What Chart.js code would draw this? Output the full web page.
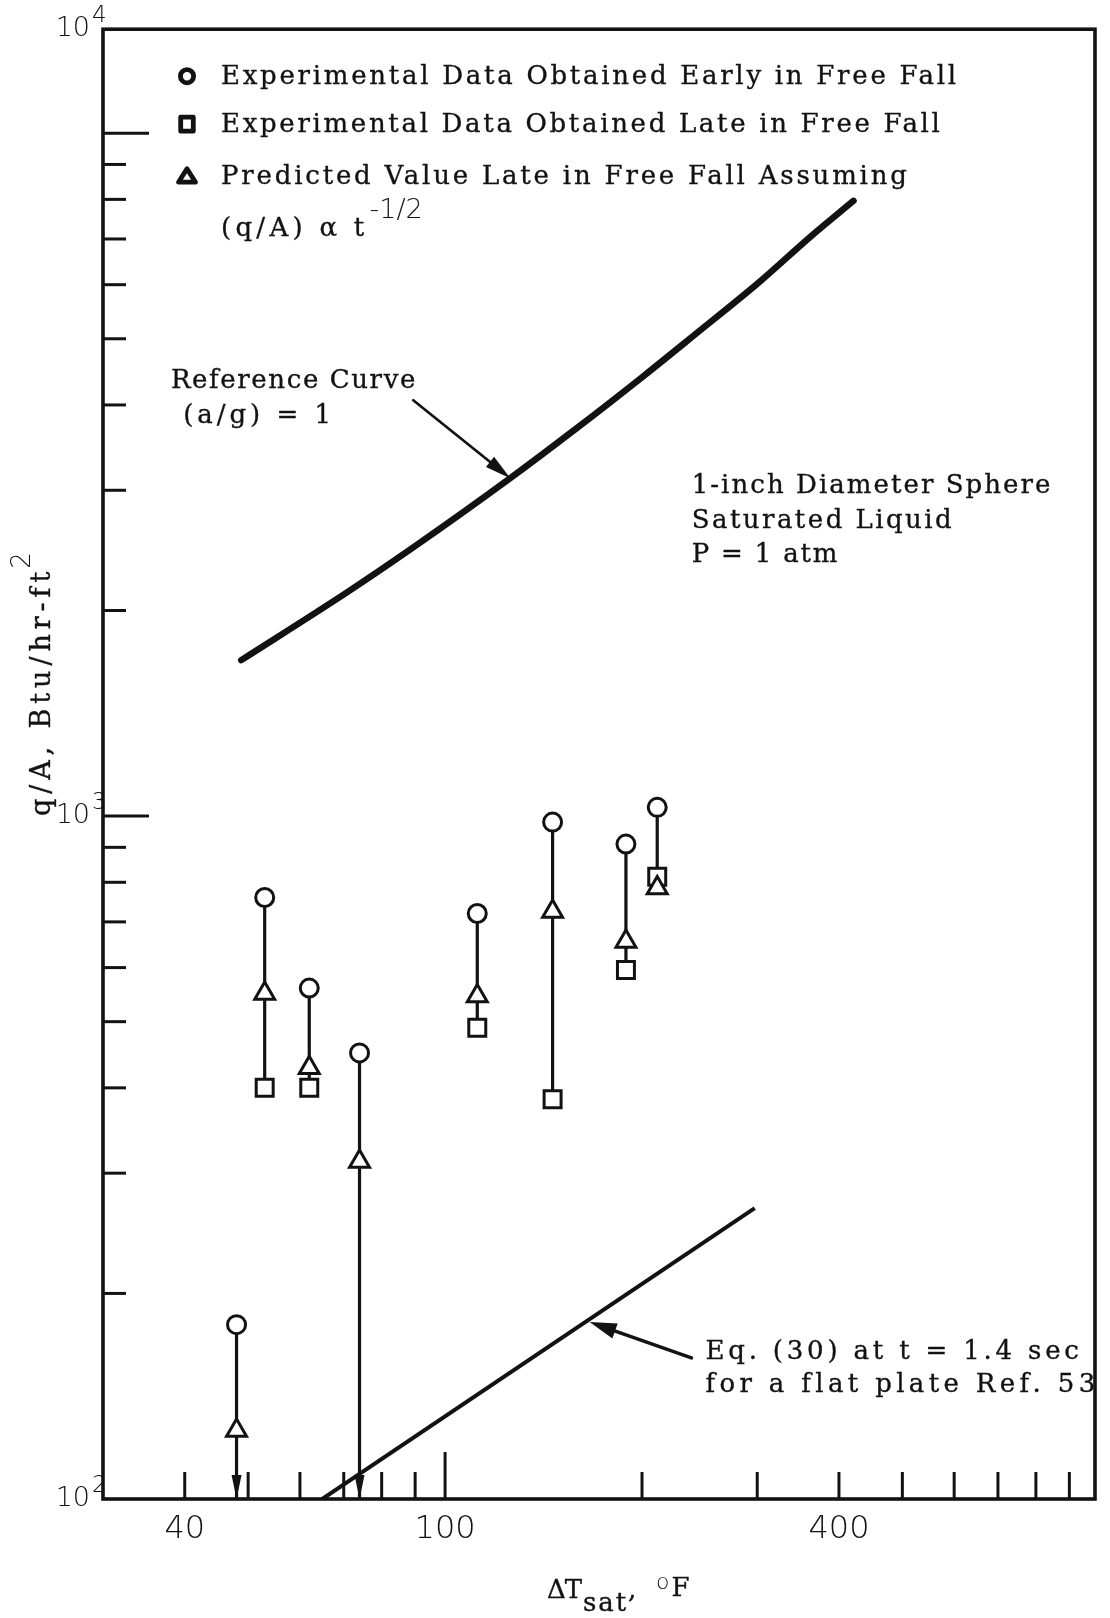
<!DOCTYPE html>
<html>
<head>
<meta charset="utf-8">
<title>q/A vs ΔT_sat — 1-inch sphere in free fall</title>
<script src="https://cdn.jsdelivr.net/npm/chart.js@4.4.1/dist/chart.umd.min.js"></script>
<style>
  html, body { margin: 0; padding: 0; background: #ffffff; }
  #wrap { width: 1110px; height: 1618px; }
  canvas { display: block; }
</style>
</head>
<body>
<div id="wrap"><canvas id="chart" width="1110" height="1618"></canvas></div>
<script>
// ---- data -------------------------------------------------------------
// ΔT_sat, °F, of each run
const deltaT = [48, 53, 62, 74, 112, 146, 189, 211];
// q/A, Btu/hr-ft², obtained early in free fall
const qEarly = [180, 760, 560, 450, 720, 980, 910, 1030];
// q/A obtained late in free fall (null = below 10², off scale)
const qLate = [null, 400, 400, null, 490, 385, 595, 815];
// q/A predicted late in free fall assuming (q/A) α t^-1/2
const qPredicted = [126, 550, 428, 312, 545, 725, 655, 785];

// reference curve, (a/g) = 1
const refDeltaT = [48.8, 70.8, 89.4, 125.8, 159.5, 201.4, 239.7, 302.6, 360.4, 421];
const refQ = [1692, 2126, 2474, 3125, 3708, 4415, 5051, 6060, 7030, 7960];

// Eq. (30) at t = 1.4 sec for a flat plate
const eq30DeltaT = [64.9, 297.4];
const eq30Q = [100, 266.7];

// series names
const seriesLabels = [
  'Experimental Data Obtained Early in Free Fall',
  'Experimental Data Obtained Late in Free Fall',
  'Predicted Value Late in Free Fall Assuming'
];

// axis tick labels and tick marks
const xTickLabels = [40, 100, 400];
const yTickBase = ['10', '10', '10'];
const yTickExp = ['2', '3', '4'];
const xMinorTicks = [40, 50, 60, 70, 80, 90, 200, 300, 400, 500, 600, 700, 800, 900];
const xMajorTicks = [100];
const yMinorTicks = [200, 300, 400, 500, 600, 700, 800, 900,
                     2000, 3000, 4000, 5000, 6000, 7000, 8000, 9000];
const yMajorTicks = [1000, 10000];

// ---- layout / style ---------------------------------------------------
const X_MIN = 30, X_MAX = 985, Y_MIN = 100, Y_MAX = 14200;
const INK = '#121212';
const TYPE_FONT = '"DejaVu Serif", "Liberation Serif", serif';
const TYPE_SIZE = 26;
const PITCH = 16.4;          // typewriter character pitch, px
const LETTER_FONT = '"DejaVu Sans", "Liberation Sans", sans-serif';

// callouts in data units
const callouts = [
  { from: [89.4, 4064], to: [125.8, 3125], width: 2.7, len: 26, half: 6.5 },
  { from: [238, 160.9], to: [166.3, 181.6], width: 3.4, len: 27, half: 8 }
];
const notes = [
  { at: [38.1, 4233], step: 35, lines: ['Reference Curve', ' (a/g) = 1'] },
  { at: [238.2, 2971], step: 34.5, lines: ['1-inch Diameter Sphere', 'Saturated Liquid', 'P = 1 atm'] },
  { at: [250, 160.3], step: 33, lines: ['Eq. (30) at t = 1.4 sec', 'for a flat plate Ref. 53'] }
];

const pts = (xs, ys) => xs.map((x, i) => ({ x, y: ys[i] })).filter(p => p.y !== null);

// vertical bars joining each run's early value to its late value
// (down to the axis when the late value is off scale)
const connectorSets = deltaT.map((x, i) => ({
  label: 'run ' + (i + 1),
  data: [{ x, y: qEarly[i] }, { x, y: qLate[i] === null ? Y_MIN : qLate[i] }],
  showLine: true,
  borderColor: INK,
  borderWidth: 3.2,
  pointRadius: 0,
  clip: false
}));

// typewriter-style text: a fixed character pitch, slightly inked
function typeText(ctx, s, x, y, pitch, size) {
  ctx.save();
  ctx.font = (size || TYPE_SIZE) + 'px ' + TYPE_FONT;
  if ('letterSpacing' in ctx) {
    ctx.letterSpacing = '0px';
    const w = ctx.measureText(s).width;
    ctx.letterSpacing = ((pitch * s.length - w) / s.length).toFixed(2) + 'px';
  }
  ctx.fillStyle = INK;
  ctx.strokeStyle = INK;
  ctx.lineWidth = 0.35;
  ctx.fillText(s, x, y);
  ctx.strokeText(s, x, y);
  ctx.restore();
  return pitch * s.length;
}

function filledHead(ctx, tx, ty, fx, fy, len, half) {
  const ang = Math.atan2(ty - fy, tx - fx);
  ctx.save();
  ctx.translate(tx, ty);
  ctx.rotate(ang);
  ctx.beginPath();
  ctx.moveTo(0, 0);
  ctx.lineTo(-len, half);
  ctx.lineTo(-len, -half);
  ctx.closePath();
  ctx.fill();
  ctx.restore();
}

function legendMarker(ctx, style, x, y) {
  ctx.save();
  ctx.lineWidth = 4.8;
  ctx.strokeStyle = INK;
  ctx.fillStyle = '#fff';
  ctx.lineJoin = 'round';
  ctx.beginPath();
  if (style === 'circle') {
    ctx.arc(x, y, 6.6, 0, Math.PI * 2);
  } else if (style === 'rect') {
    ctx.rect(x - 6.3, y - 7, 12.6, 14);
  } else {
    ctx.moveTo(x, y - 7.5);
    ctx.lineTo(x + 8.5, y + 6);
    ctx.lineTo(x - 8.5, y + 6);
    ctx.closePath();
  }
  ctx.fill();
  ctx.stroke();
  ctx.restore();
}

const decorations = {
  id: 'plotDecorations',
  afterDatasetsDraw(chart) {
    const { ctx, chartArea: a, scales: { x, y } } = chart;
    ctx.save();
    ctx.strokeStyle = INK;
    ctx.fillStyle = INK;
    ctx.textAlign = 'left';
    ctx.textBaseline = 'alphabetic';

    // arrowheads where the late value falls below the axis
    deltaT.forEach((v, i) => {
      if (qLate[i] !== null) return;
      const px = x.getPixelForValue(v);
      filledHead(ctx, px, a.bottom, px, a.bottom - 40, 24, 5);
    });

    // callout arrows
    ctx.lineCap = 'round';
    callouts.forEach(c => {
      const fx = x.getPixelForValue(c.from[0]), fy = y.getPixelForValue(c.from[1]);
      const tx = x.getPixelForValue(c.to[0]), ty = y.getPixelForValue(c.to[1]);
      const ang = Math.atan2(ty - fy, tx - fx);
      ctx.lineWidth = c.width;
      ctx.beginPath();
      ctx.moveTo(fx, fy);
      ctx.lineTo(tx - Math.cos(ang) * c.len * 0.7, ty - Math.sin(ang) * c.len * 0.7);
      ctx.stroke();
      filledHead(ctx, tx, ty, fx, fy, c.len, c.half);
    });

    // frame
    ctx.lineCap = 'butt';
    ctx.lineWidth = 3.6;
    ctx.strokeRect(a.left, a.top, a.right - a.left, a.bottom - a.top);

    // tick marks, pointing into the plot
    ctx.lineWidth = 3;
    const vtick = (v, h) => {
      const px = x.getPixelForValue(v);
      ctx.beginPath(); ctx.moveTo(px, a.bottom); ctx.lineTo(px, a.bottom - h); ctx.stroke();
    };
    const htick = (v, w) => {
      const py = y.getPixelForValue(v);
      ctx.beginPath(); ctx.moveTo(a.left, py); ctx.lineTo(a.left + w, py); ctx.stroke();
    };
    xMinorTicks.forEach(v => vtick(v, 27));
    xMajorTicks.forEach(v => vtick(v, 47));
    yMinorTicks.forEach(v => htick(v, 23));
    yMajorTicks.forEach(v => htick(v, 46));

    // exponents of the y tick labels
    ctx.font = '300 23px ' + LETTER_FONT;
    y.ticks.forEach((t, i) => {
      const py = y.getPixelForValue(t.value);
      ctx.fillText(yTickExp[i], a.left - 11, py - 7);
    });

    // legend
    const lx = a.left + 84, tx0 = a.left + 118;
    const rows = [a.top + 55, a.top + 103, a.top + 155];
    const styles = ['circle', 'rect', 'triangle'];
    seriesLabels.forEach((lab, i) => {
      legendMarker(ctx, styles[i], lx, rows[i] - 8);
      typeText(ctx, lab, tx0, rows[i], PITCH);
    });
    const cont = '(q/A) α t';
    const cw = typeText(ctx, cont, tx0, a.top + 207, PITCH);
    ctx.fillStyle = INK;
    ctx.font = '300 27px ' + LETTER_FONT;
    ctx.fillText('-1/2', tx0 + cw + 1, a.top + 189);

    // notes
    notes.forEach(n => {
      const nx = x.getPixelForValue(n.at[0]), ny = y.getPixelForValue(n.at[1]);
      n.lines.forEach((s, k) => typeText(ctx, s, nx, ny + k * n.step, PITCH));
    });

    // y axis title
    ctx.save();
    ctx.translate(50, 816);
    ctx.rotate(-Math.PI / 2);
    const yt = 'q/A, Btu/hr-ft';
    const yw = typeText(ctx, yt, 0, 0, 17.8, 27);
    ctx.fillStyle = INK;
    ctx.font = '300 26px ' + LETTER_FONT;
    ctx.fillText('2', yw - 2, -20);
    ctx.restore();

    // x axis title
    let cx = 547;
    const base = 1598;
    cx += typeText(ctx, 'ΔT', cx, base, 17) + 2;
    cx += typeText(ctx, 'sat', cx, base + 13, 15);
    cx += typeText(ctx, ',', cx, base, 14) + 14;
    ctx.fillStyle = INK;
    ctx.font = '300 22px ' + LETTER_FONT;
    ctx.fillText('o', cx, base - 9);
    cx += ctx.measureText('o').width + 2;
    typeText(ctx, 'F', cx, base - 2, 17);

    ctx.restore();
  }
};

new Chart(document.getElementById('chart'), {
  type: 'scatter',
  data: {
    datasets: [
      {
        label: seriesLabels[0],
        data: pts(deltaT, qEarly),
        pointStyle: 'circle',
        pointRadius: 9,
        borderWidth: 3,
        borderColor: INK,
        backgroundColor: '#ffffff',
        clip: false
      },
      {
        label: seriesLabels[2],
        data: pts(deltaT, qPredicted),
        pointStyle: 'triangle',
        pointRadius: 11.5,
        borderWidth: 3,
        borderColor: INK,
        backgroundColor: '#ffffff',
        clip: false
      },
      {
        label: seriesLabels[1],
        data: pts(deltaT, qLate),
        pointStyle: 'rect',
        pointRadius: 12,
        borderWidth: 3,
        borderColor: INK,
        backgroundColor: '#ffffff',
        clip: false
      },
      {
        label: 'Reference Curve (a/g) = 1',
        data: pts(refDeltaT, refQ),
        showLine: true,
        borderColor: INK,
        borderWidth: 6.5,
        borderCapStyle: 'round',
        cubicInterpolationMode: 'monotone',
        pointRadius: 0
      },
      {
        label: 'Eq. (30) at t = 1.4 sec',
        data: pts(eq30DeltaT, eq30Q),
        showLine: true,
        borderColor: INK,
        borderWidth: 4,
        pointRadius: 0
      },
      ...connectorSets
    ]
  },
  options: {
    responsive: false,
    animation: false,
    devicePixelRatio: 1,
    layout: { padding: { top: 28, right: 5, left: 0, bottom: 0 } },
    plugins: { legend: { display: false }, tooltip: { enabled: false } },
    scales: {
      x: {
        type: 'logarithmic',
        min: X_MIN,
        max: X_MAX,
        afterBuildTicks: s => { s.ticks = xTickLabels.map(v => ({ value: v })); },
        afterFit: s => { s.height = 119; },
        grid: { display: false, drawTicks: false },
        border: { display: false },
        ticks: {
          autoSkip: false,
          maxRotation: 0,
          padding: 11,
          color: INK,
          font: { family: LETTER_FONT, size: 32, weight: 300 },
          callback: v => String(v)
        }
      },
      y: {
        type: 'logarithmic',
        min: Y_MIN,
        max: Y_MAX,
        afterBuildTicks: s => { s.ticks = [Y_MIN, 1000, Y_MAX].map(v => ({ value: v })); },
        afterFit: s => { s.width = 103; },
        grid: { display: false, drawTicks: false },
        border: { display: false },
        ticks: {
          autoSkip: false,
          padding: 13,
          color: INK,
          font: { family: LETTER_FONT, size: 27, weight: 300 },
          callback: (v, i) => yTickBase[i]
        }
      }
    }
  },
  plugins: [decorations]
});
</script>
</body>
</html>
